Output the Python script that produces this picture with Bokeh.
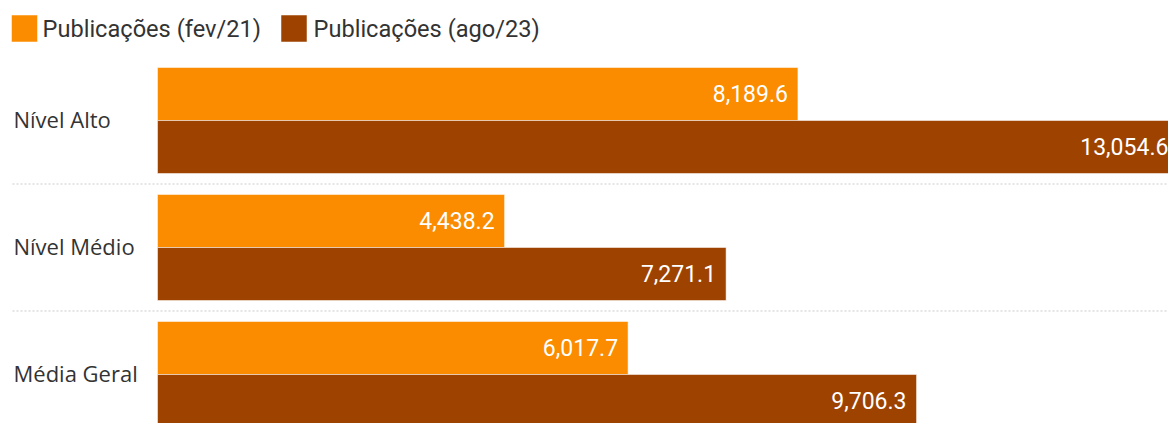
from bokeh.plotting import figure
from bokeh.models import ColumnDataSource, Range1d
from bokeh.core.properties import value
from bokeh.embed import file_html
from bokeh.resources import INLINE

# ---- data ----
categories = ["Nível Alto", "Nível Médio", "Média Geral"]
series_names = ["Publicações (fev/21)", "Publicações (ago/23)"]
pub_fev21 = [8189.6, 4438.2, 6017.7]
pub_ago23 = [13054.6, 7271.1, 9706.3]
colors = ["#FB8C00", "#9E4200"]

# ---- layout constants (pixels) ----
W, H = 1168, 423
x0_px = 157            # where value 0 sits
px_per_unit = 0.0782
y0_px = 120            # first group center
pitch_px = 127
bar_px = 53

x_start = -x0_px / px_per_unit
x_end = (W - x0_px) / px_per_unit
y_top = -y0_px / pitch_px
y_bot = (H - y0_px) / pitch_px
bar_h = bar_px / pitch_px


def px_x(px):
    return (px - x0_px) / px_per_unit


def px_y(py):
    return (py - y0_px) / pitch_px


p = figure(width=W, height=H, output_backend="svg", toolbar_location=None,
           x_range=Range1d(x_start, x_end), y_range=Range1d(y_bot, y_top),
           min_border=0, min_border_left=0, min_border_right=0,
           min_border_top=0, min_border_bottom=0)
p.axis.visible = False
p.grid.visible = False
p.outline_line_color = None
p.background_fill_color = "white"

idx = list(range(len(categories)))
fmt = lambda v: f"{v:,.1f}"

src1 = ColumnDataSource(dict(y=[i - bar_h / 2 for i in idx], v=pub_fev21,
                             lbl=[fmt(v) for v in pub_fev21]))
src2 = ColumnDataSource(dict(y=[i + bar_h / 2 for i in idx], v=pub_ago23,
                             lbl=[fmt(v) for v in pub_ago23]))

# separators
sep_y = [i + 0.5 for i in idx[:-1]]
p.segment(x0=[px_x(12)] * len(sep_y), x1=[x_end] * len(sep_y), y0=sep_y, y1=sep_y,
          line_color="#cccccc", line_width=1.2, line_dash="2 2")

p.hbar(y="y", right="v", left=0, height=bar_h, source=src1,
       fill_color=colors[0], line_color="white", line_alpha=0.5, line_width=1)
p.hbar(y="y", right="v", left=0, height=bar_h, source=src2,
       fill_color=colors[1], line_color="white", line_alpha=0.5, line_width=1)

for s in (src1, src2):
    p.text(x="v", y="y", text="lbl", source=s, x_offset=-10, y_offset=-1,
           text_align="right", text_baseline="middle",
           text_color="white", text_font=value("Roboto"), text_font_size="23px")

cat_src = ColumnDataSource(dict(y=idx, name=categories,
                                x=[px_x(13)] * len(idx)))
p.text(x="x", y="y", text="name", source=cat_src, text_align="left",
       text_baseline="middle", text_color="#333333",
       text_font=value("Open Sans"), text_font_size="22px", y_offset=-2)

# legend (drawn manually)
leg_sq_x = [px_x(24), px_x(293.5)]
leg_tx_x = [px_x(42), px_x(313)]
leg_y = [px_y(28)] * 2
p.rect(x=leg_sq_x, y=leg_y, width=26, height=27, width_units="screen",
       height_units="screen", fill_color=colors, line_color="white", line_alpha=0.5)
p.text(x=leg_tx_x, y=leg_y, text=series_names, text_align="left",
       text_baseline="middle", text_color="#333333",
       text_font=value("Roboto"), text_font_size="23.6px")

open("out.html", "w").write(file_html(p, INLINE))
